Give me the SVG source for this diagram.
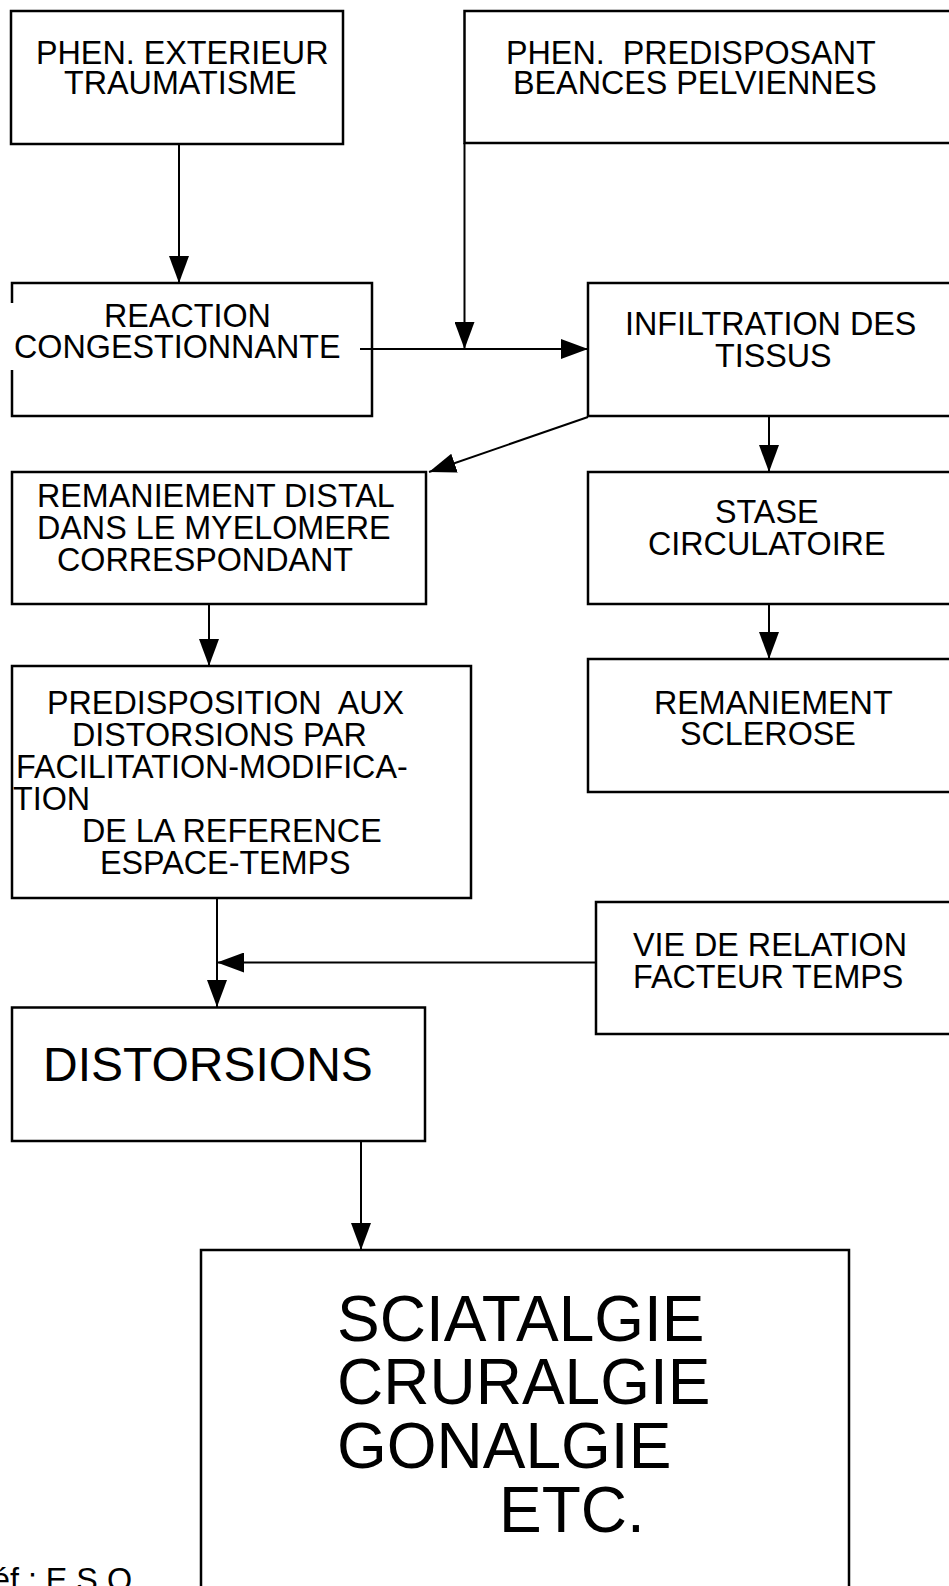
<svg xmlns="http://www.w3.org/2000/svg" width="949" height="1586" viewBox="0 0 949 1586">
  <style>
    .box { fill: none; stroke: #000; stroke-width: 2.5; }
    .wire { fill: none; stroke: #000; stroke-width: 2; }
    text { font-family: "Liberation Sans", Arial, Helvetica, sans-serif; fill: #000; }
    .t { font-size: 32.3px; }
    .m { font-size: 48px; }
    .l { font-size: 64px; }
  </style>
  <defs>
    <marker id="arrow" markerUnits="userSpaceOnUse" markerWidth="28" markerHeight="20" refX="27" refY="10" orient="auto">
      <path d="M0,0 L27,10 L0,20 z" fill="#000"/>
    </marker>
  </defs>
  <rect width="949" height="1586" fill="#fff"/>

  <!-- connectors -->
  <g id="connectors">
    <line class="wire" x1="179" y1="144" x2="179" y2="283" marker-end="url(#arrow)"/>
    <line class="wire" x1="464.5" y1="143" x2="464.5" y2="349" marker-end="url(#arrow)"/>
    <line class="wire" x1="360" y1="349" x2="588" y2="349" marker-end="url(#arrow)"/>
    <line class="wire" x1="588" y1="417" x2="429" y2="472" stroke-width="2.8" marker-end="url(#arrow)"/>
    <line class="wire" x1="769" y1="416" x2="769" y2="472" marker-end="url(#arrow)"/>
    <line class="wire" x1="209" y1="604" x2="209" y2="666" marker-end="url(#arrow)"/>
    <line class="wire" x1="769" y1="604" x2="769" y2="659" marker-end="url(#arrow)"/>
    <line class="wire" x1="217" y1="898" x2="217" y2="1007" marker-end="url(#arrow)"/>
    <line class="wire" x1="596" y1="962.5" x2="217" y2="962.5" marker-end="url(#arrow)"/>
    <line class="wire" x1="361" y1="1141" x2="361" y2="1250" marker-end="url(#arrow)"/>
  </g>

  <g id="n-exterieur">
    <rect class="box" x="11" y="11" width="332" height="133"/>
    <text class="t" x="36" y="64">PHEN. EXTERIEUR</text>
    <text class="t" x="64" y="94">TRAUMATISME</text>
  </g>

  <g id="n-predisposant">
    <path class="box" d="M964,11 H464.5 V143 H964"/>
    <text class="t" x="506" y="64" xml:space="preserve">PHEN.  PREDISPOSANT</text>
    <text class="t" x="513" y="94">BEANCES PELVIENNES</text>
  </g>

  <g id="n-reaction">
    <path class="box" d="M12,303 V283 H372 V416 H12 V370"/>
    <text class="t" x="104" y="327">REACTION</text>
    <text class="t" x="14" y="358">CONGESTIONNANTE</text>
  </g>

  <g id="n-infiltration">
    <path class="box" d="M964,283 H588 V416 H964"/>
    <text class="t" x="625" y="335">INFILTRATION DES</text>
    <text class="t" x="715" y="367">TISSUS</text>
  </g>

  <g id="n-distal">
    <rect class="box" x="12" y="472" width="414" height="132"/>
    <text class="t" x="37" y="507">REMANIEMENT DISTAL</text>
    <text class="t" x="37" y="539">DANS LE MYELOMERE</text>
    <text class="t" x="57" y="571">CORRESPONDANT</text>
  </g>

  <g id="n-stase">
    <path class="box" d="M964,472 H588 V604 H964"/>
    <text class="t" x="715" y="523">STASE</text>
    <text class="t" x="648" y="555">CIRCULATOIRE</text>
  </g>

  <g id="n-predisposition">
    <rect class="box" x="12" y="666" width="459" height="232"/>
    <text class="t" x="47" y="714" xml:space="preserve">PREDISPOSITION  AUX</text>
    <text class="t" x="72" y="746">DISTORSIONS PAR</text>
    <text class="t" x="16" y="778">FACILITATION-MODIFICA-</text>
    <text class="t" x="13" y="810">TION</text>
    <text class="t" x="82" y="842">DE LA REFERENCE</text>
    <text class="t" x="100" y="874">ESPACE-TEMPS</text>
  </g>

  <g id="n-sclerose">
    <path class="box" d="M964,659 H588 V792 H964"/>
    <text class="t" x="654" y="714">REMANIEMENT</text>
    <text class="t" x="680" y="745">SCLEROSE</text>
  </g>

  <g id="n-relation">
    <path class="box" d="M964,902 H596 V1034 H964"/>
    <text class="t" x="633" y="956">VIE DE RELATION</text>
    <text class="t" x="633" y="988">FACTEUR TEMPS</text>
  </g>

  <g id="n-distorsions">
    <rect class="box" x="12" y="1007.5" width="413" height="133.5"/>
    <text class="m" x="43" y="1081">DISTORSIONS</text>
  </g>

  <g id="n-algies">
    <path class="box" d="M201,1600 V1250 H849 V1600"/>
    <text class="l" x="337" y="1341">SCIATALGIE</text>
    <text class="l" x="337" y="1404">CRURALGIE</text>
    <text class="l" x="337" y="1468">GONALGIE</text>
    <text class="l" x="499" y="1532">ETC.</text>
  </g>

  <text class="t" x="-8" y="1591">éf : E.S.O.</text>
</svg>
